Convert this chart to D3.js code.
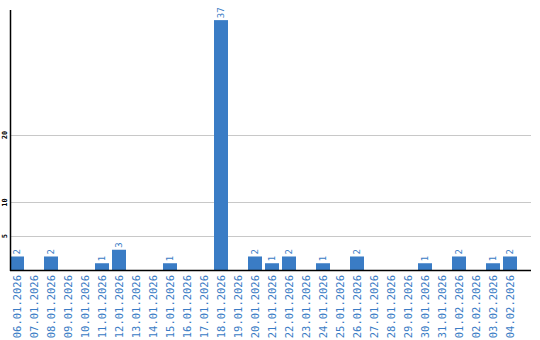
<!DOCTYPE html>
<html><head><meta charset="utf-8">
<script src="https://cdn.jsdelivr.net/npm/d3@7"></script>
<style>body{margin:0;background:#fff}svg{display:block}</style>
</head><body>
<script>
const categories = ["06.01.2026","07.01.2026","08.01.2026","09.01.2026","10.01.2026","11.01.2026","12.01.2026","13.01.2026","14.01.2026","15.01.2026","16.01.2026","17.01.2026","18.01.2026","19.01.2026","20.01.2026","21.01.2026","22.01.2026","23.01.2026","24.01.2026","25.01.2026","26.01.2026","27.01.2026","28.01.2026","29.01.2026","30.01.2026","31.01.2026","01.02.2026","02.02.2026","03.02.2026","04.02.2026"];
const values = [2,0,2,0,0,1,3,0,0,1,0,0,37,0,2,1,2,0,1,0,2,0,0,0,1,0,2,0,1,2];
const yTicks = [5,10,20];

const W = 540, H = 340;
const blue = "#3a7cc5";
const svg = d3.select("body").append("svg").attr("width", W).attr("height", H);

const x = d3.scaleBand().domain(categories).range([10, 517]).paddingInner(3/17).paddingOuter(0);
const y = d3.scaleLinear().domain([0, 38.5]).range([270, 10]);

// grid
svg.append("g").selectAll("line").data(yTicks).join("line")
  .attr("x1", 11).attr("x2", 531)
  .attr("y1", d => Math.round(y(d)) + 0.5).attr("y2", d => Math.round(y(d)) + 0.5)
  .attr("stroke", "#c8c8c8").attr("stroke-width", 1);

// tick labels
svg.append("g").selectAll("text").data(yTicks).join("text")
  .attr("transform", d => `translate(7,${y(d)}) rotate(-90)`)
  .attr("text-anchor", "middle")
  .attr("font-family", "DejaVu Sans Mono, monospace").attr("font-size", 7).attr("font-weight", "bold")
  .attr("fill", "#000").text(d => d);

const rows = values.map((v,i)=>({c:categories[i],v}));

// bars
svg.append("g").selectAll("rect").data(rows.filter(d => d.v > 0)).join("rect")
  .attr("x", d => x(d.c)).attr("width", x.bandwidth())
  .attr("y", d => y(d.v)).attr("height", d => y(0) - y(d.v))
  .attr("fill", blue);

// value labels
svg.append("g").selectAll("text").data(rows.filter(d => d.v > 0)).join("text")
  .attr("transform", d => `translate(${x(d.c) + x.bandwidth()/2 + 3},${y(d.v) - 2}) rotate(-90)`)
  .attr("text-anchor", "start")
  .attr("font-family", "DejaVu Sans Mono, monospace").attr("font-size", 9)
  .attr("fill", blue).text(d => d.v);

// category labels
svg.append("g").selectAll("text").data(categories).join("text")
  .attr("transform", d => `translate(${x(d) + x.bandwidth()/2 + 3.5},275) rotate(-90)`)
  .attr("text-anchor", "end")
  .attr("font-family", "DejaVu Sans Mono, monospace").attr("font-size", 10.5)
  .attr("fill", blue).text(d => d);

// axes lines
svg.append("line").attr("x1", 10.5).attr("x2", 10.5).attr("y1", 10).attr("y2", 271)
  .attr("stroke", "#000").attr("stroke-width", 1.5);
svg.append("line").attr("x1", 10).attr("x2", 531).attr("y1", 270.5).attr("y2", 270.5)
  .attr("stroke", "#000").attr("stroke-width", 1.5);
</script>
</body></html>
